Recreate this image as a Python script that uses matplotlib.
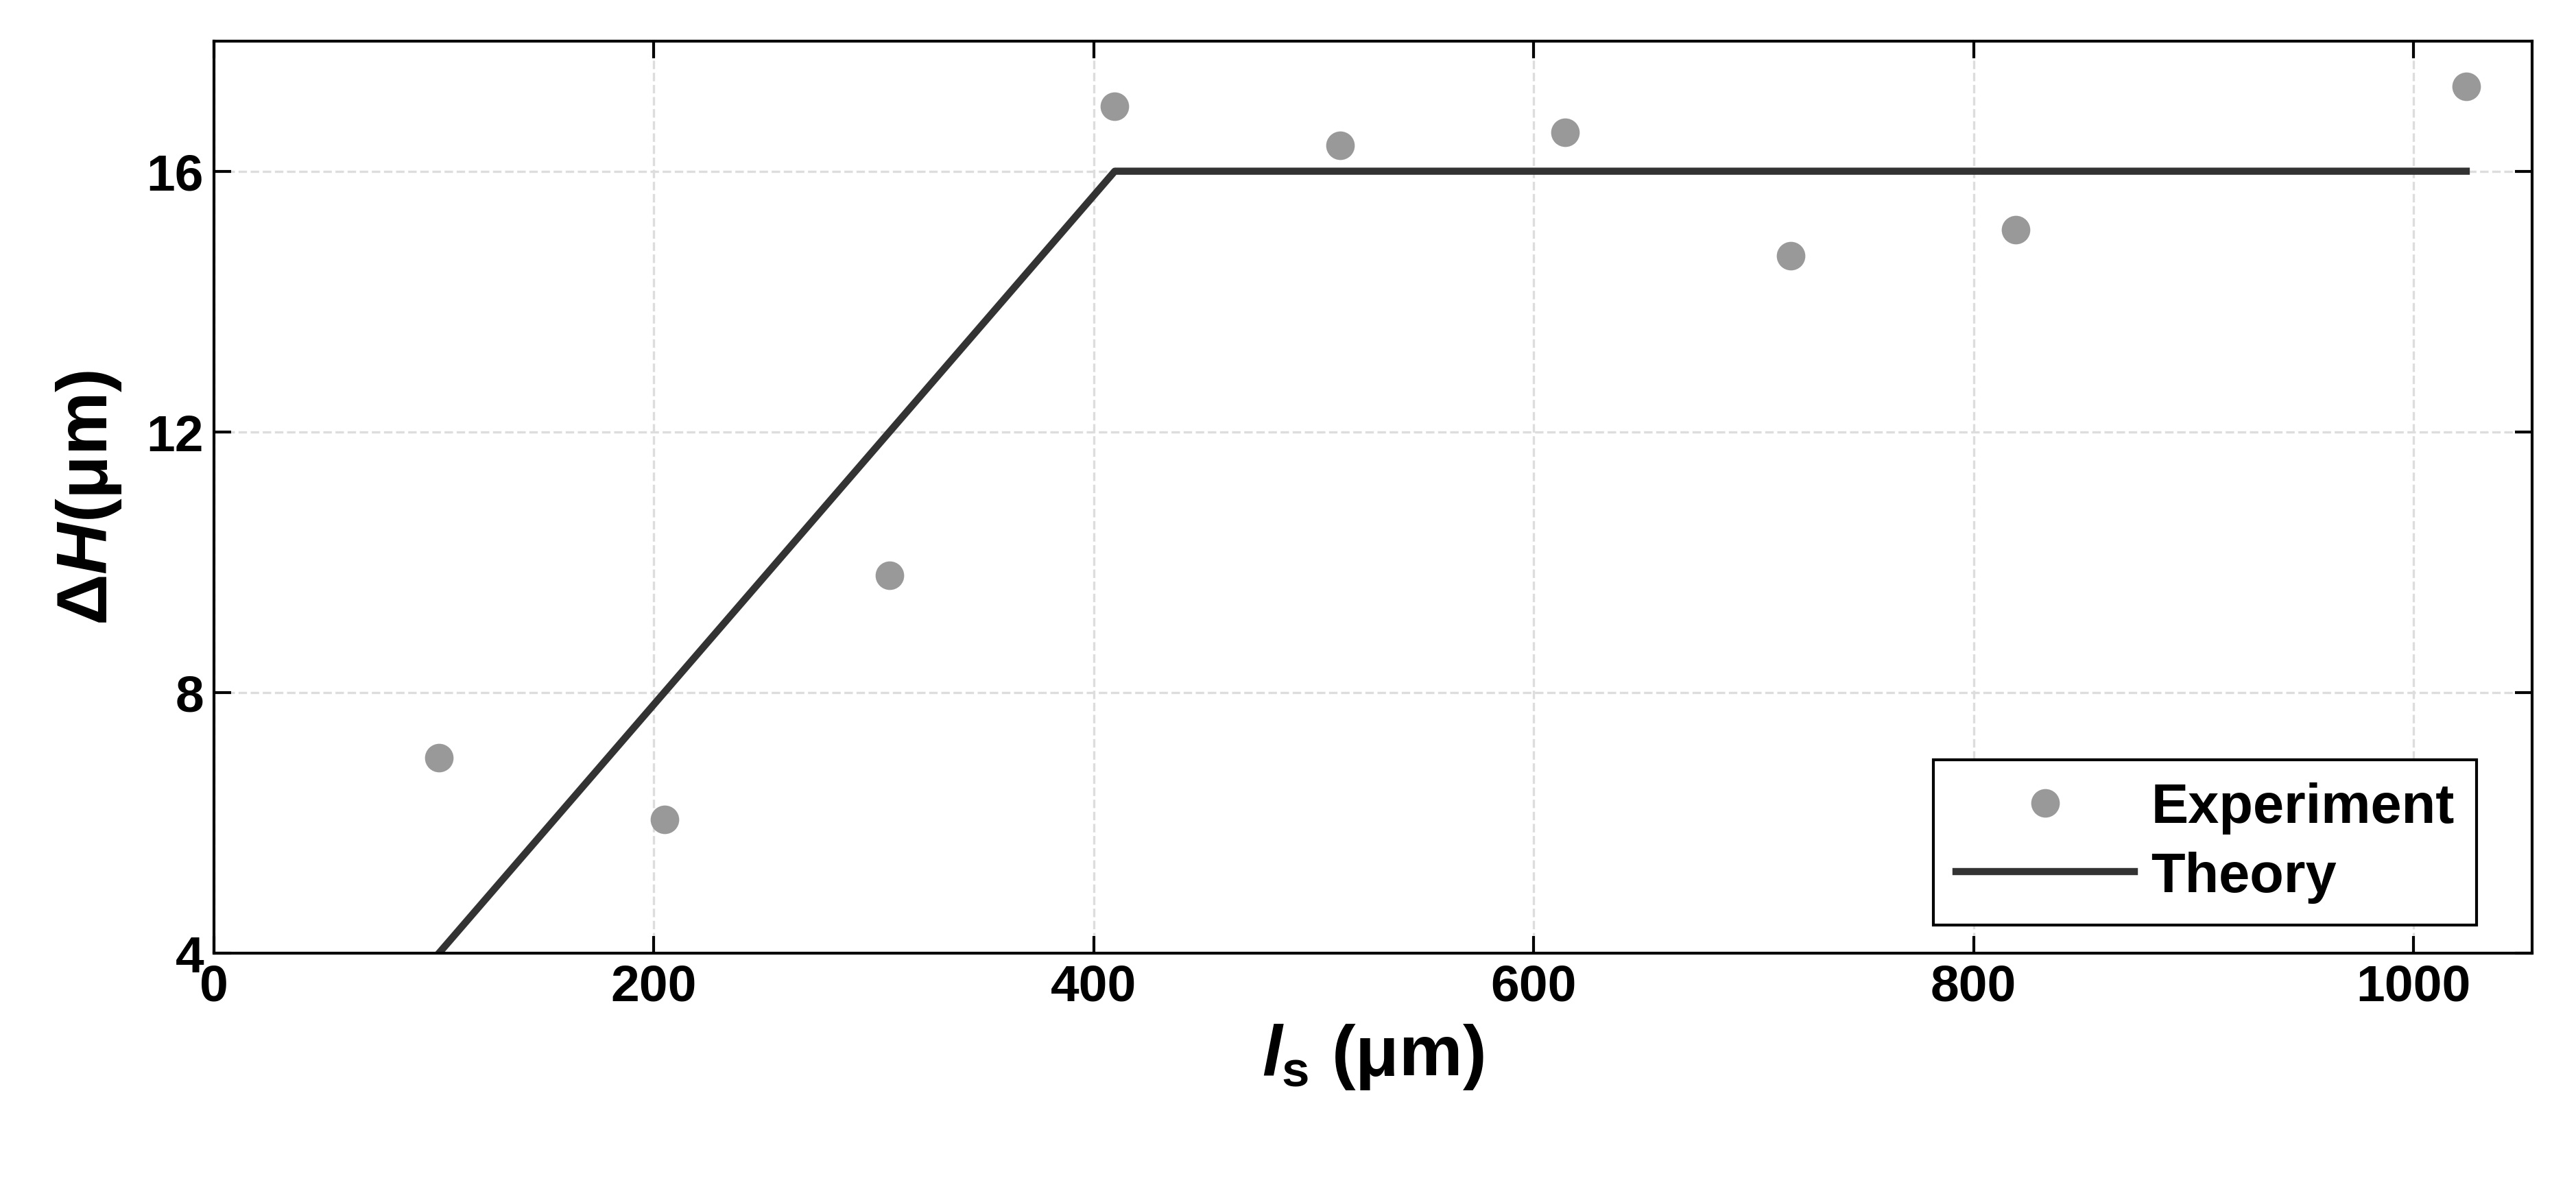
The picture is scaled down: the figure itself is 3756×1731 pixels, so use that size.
import matplotlib
matplotlib.use("Agg")
import matplotlib.pyplot as plt

exp_x = [102.4, 204.8, 307.2, 409.6, 512, 614.4, 716.8, 819.2, 1024]
exp_y = [7.0, 6.05, 9.8, 17.0, 16.4, 16.6, 14.7, 15.1, 17.3]
th_x = [102.4, 409.6, 1024]
th_y = [4, 16, 16]
xticks = [0, 200, 400, 600, 800, 1000]
yticks = [4, 8, 12, 16]

plt.rcParams['font.family'] = ['Liberation Sans', 'DejaVu Sans']
plt.rcParams['font.weight'] = 'bold'
plt.rcParams['mathtext.fontset'] = 'custom'
plt.rcParams['mathtext.it'] = 'Liberation Sans:bold:italic'
plt.rcParams['mathtext.rm'] = 'Liberation Sans:bold'
fig = plt.figure(figsize=(12.52, 5.7733), dpi=300)
ax = fig.add_axes([0.083, 0.197, 0.900, 0.768])
ax.plot(exp_x, exp_y, 'o', color='#999999', markersize=9, label='Experiment', zorder=3)
ax.plot(th_x, th_y, '-', color='#333333', lw=2.5, label='Theory', zorder=2)
ax.set_xlim(0, 1054)
ax.set_ylim(4, 18)
ax.set_xticks(xticks)
ax.set_yticks(yticks)
ax.grid(True, ls='--', color='#dddddd', lw=0.8)
ax.tick_params(direction='in', labelsize=18, top=True, right=True, length=6, width=1)
for l in ax.get_xticklabels() + ax.get_yticklabels():
    l.set_fontweight('bold')
for s in ax.spines.values():
    s.set_linewidth(1.0)
ax.set_xlabel('$\\mathit{l}_{\\mathrm{s}}$ (μm)', fontsize=25, fontweight='bold', labelpad=4)
ax.set_ylabel('Δ$\\mathit{H}$(μm)', fontsize=25, fontweight='bold', labelpad=8)
leg = ax.legend(loc='lower right', fontsize=19.5, fancybox=False, edgecolor='black',
                framealpha=1, handlelength=3.2, handletextpad=0.3, borderpad=0.4,
                labelspacing=0.3, bbox_to_anchor=(0.988, 0.0))
leg.get_frame().set_linewidth(1.0)
fig.savefig('out.png', dpi=300)
